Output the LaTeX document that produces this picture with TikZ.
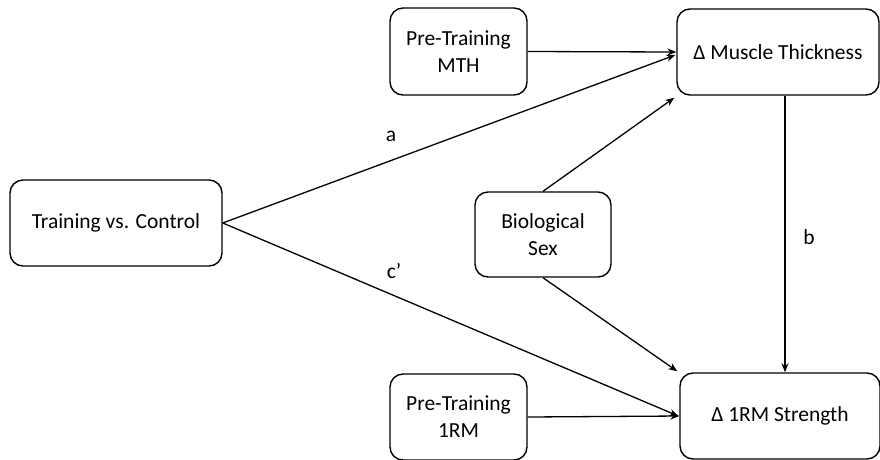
\documentclass[tikz,border=0pt]{standalone}
\usepackage{fontspec}
\setmainfont{Carlito}
\usetikzlibrary{arrows.meta,calc}
\begin{document}
\begin{tikzpicture}[x=1pt,y=-1pt,
  box/.style={draw,line width=1.4pt,rounded corners=13pt,align=center,inner sep=0pt,
    font=\fontsize{21.5}{27}\selectfont},
  arr/.style={line width=1.3pt,-{Stealth[length=9pt,width=7pt]}},
  lab/.style={font=\fontsize{21.5}{27}\selectfont}]
\useasboundingbox (0,0) rectangle (880,459);
\node[box,minimum width=137pt,minimum height=87pt] (mth) at (458.5,51.5) {Pre-Training\\MTH};
\node[box,minimum width=202pt,minimum height=86pt] (mt) at (778,52) {Δ Muscle Thickness};
\node[box,minimum width=212pt,minimum height=86pt] (tvc) at (116,223) {Training vs. Control};
\node[box,minimum width=136pt,minimum height=85pt] (bio) at (543,234.5) {Biological\\Sex};
\node[box,minimum width=137pt,minimum height=86pt] (pre) at (458.5,417) {Pre-Training\\1RM};
\node[box,minimum width=200pt,minimum height=86pt] (rm) at (780,416) {Δ 1RM Strength};
\coordinate (bx) at (785,0);
\draw[arr] (mth.east) -- (mt.west);
\draw[arr] (tvc.east) -- ($(mt.west)+(-1,3)$);
\draw[arr] (bio.north) -- ($(mt.south west)+(-2,2)$);
\draw[arr] (bio.south) -- ($(rm.north west)+(-2,-1)$);
\draw[arr] (tvc.east) -- ($(rm.west)+(-1,0)$);
\draw[arr] (pre.east) -- (rm.west);
\draw[arr] (mt.south -| bx) -- (rm.north -| bx);
\node[lab] (la) at (391,136) {a};
\node[lab] (lc) at (394,271) {c’};
\node[lab] (lb) at (809,237) {b};
\end{tikzpicture}
\end{document}
